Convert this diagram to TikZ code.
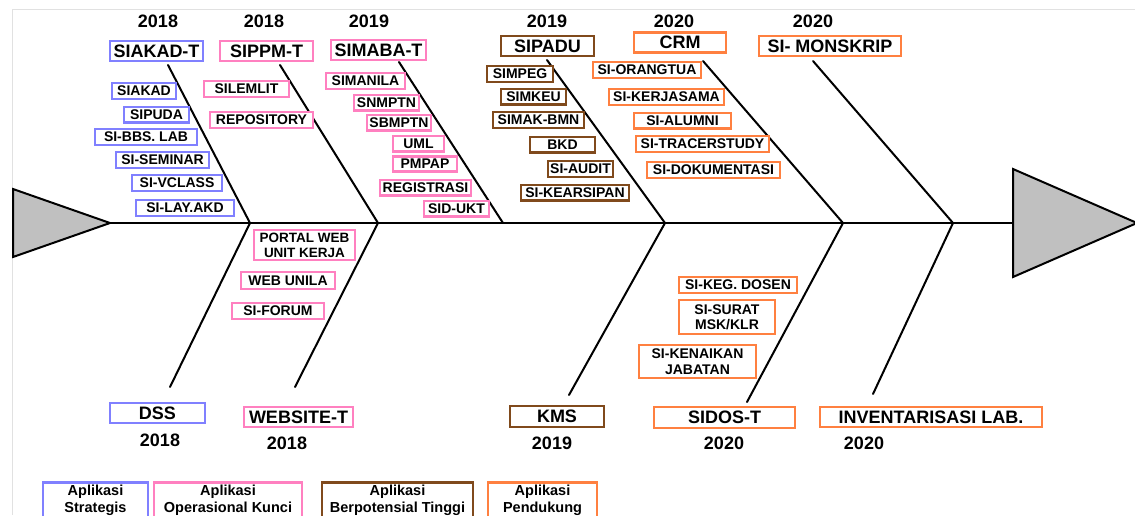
\documentclass[tikz,border=0pt]{standalone}
\usepackage{fontspec}
\setmainfont{Liberation Sans}
\definecolor{cStrat}{RGB}{128,128,255}
\definecolor{cOper}{RGB}{255,128,192}
\definecolor{cPot}{RGB}{128,74,28}
\definecolor{cSup}{RGB}{255,128,64}
\definecolor{headfill}{RGB}{192,192,192}
\definecolor{framec}{RGB}{225,225,225}
\tikzset{
  box/.style={draw, line width=2.5pt, fill=white, inner sep=0pt, align=center,
    font=\fontsize{14}{15.5}\selectfont\bfseries},
  head/.style={box, font=\fontsize{18}{20}\selectfont\bfseries},
  yearlbl/.style={inner sep=0pt, font=\fontsize{18}{20}\selectfont\bfseries},
  legendbox/.style={box, anchor=north, minimum height=40pt, text depth=8pt,
    font=\fontsize{14.5}{17}\selectfont\bfseries},
  wh/.style 2 args={minimum width=#1pt, minimum height=#2pt},
  strat/.style={draw=cStrat},
  oper/.style={draw=cOper},
  pot/.style={draw=cPot},
  sup/.style={draw=cSup},
  bone/.style={line width=2pt, line cap=round},
}
\begin{document}
\begin{tikzpicture}[x=1pt,y=-1pt]
\clip (0,0) rectangle (1135,515);
\fill[white] (0,0) rectangle (1135,515);
\draw[framec, line width=0.8pt] (12,515) -- (12,9) -- (1135,9);

% spine, tail and head
\coordinate (tailtop) at (13,189);
\coordinate (tailtip) at (110,223);
\coordinate (tailbot) at (13,257);
\coordinate (headtop) at (1013,169);
\coordinate (headbase) at (1013,223);
\coordinate (headtip) at (1137,223);
\coordinate (headbot) at (1013,277);
\draw[line width=2pt] (tailtip) -- (headbase);
\draw[fill=headfill, line width=2pt, line join=miter] (tailtop) -- (tailtip) -- (tailbot) -- cycle;
\draw[fill=headfill, line width=2pt, line join=miter] (headtop) -- (headtip) -- (headbot) -- cycle;

% junctions on the spine
\coordinate (j1) at (250,223);
\coordinate (j2) at (378,223);
\coordinate (j3) at (503,223);
\coordinate (j4) at (665,223);
\coordinate (j5) at (843,223);
\coordinate (j6) at (953,223);
% free ends of the bones
\coordinate (t1) at (168,65);
\coordinate (t2) at (280,65);
\coordinate (t3) at (399,62);
\coordinate (t4) at (547,60);
\coordinate (t5) at (703,61);
\coordinate (t6) at (813,61);
\coordinate (u1) at (170,387);
\coordinate (u2) at (295,387);
\coordinate (u4) at (569,395);
\coordinate (u5) at (747,402);
\coordinate (u6) at (873,394);

\draw[bone] (t1) -- (j1);
\draw[bone] (t2) -- (j2);
\draw[bone] (t3) -- (j3);
\draw[bone] (t4) -- (j4);
\draw[bone] (t5) -- (j5);
\draw[bone] (t6) -- (j6);
\draw[bone] (j1) -- (u1);
\draw[bone] (j2) -- (u2);
\draw[bone] (j4) -- (u4);
\draw[bone] (j5) -- (u5);
\draw[bone] (j6) -- (u6);

% years
\node[yearlbl] (ya) at (158,21) {2018};
\node[yearlbl] (yb) at (264,21) {2018};
\node[yearlbl] (yc) at (369,21) {2019};
\node[yearlbl] (yd) at (547,21) {2019};
\node[yearlbl] (ye) at (674,21) {2020};
\node[yearlbl] (yf) at (813,21) {2020};
\node[yearlbl] (yg) at (160,440) {2018};
\node[yearlbl] (yh) at (287,443) {2018};
\node[yearlbl] (yi) at (552,443) {2019};
\node[yearlbl] (yj) at (724,443) {2020};
\node[yearlbl] (yk) at (864,443) {2020};

% main categories
\node[head, strat, wh={93}{20}] (siakadt) at (156.5,51) {SIAKAD-T};
\node[head, oper, wh={93}{20}] (sippmt) at (266.5,51) {SIPPM-T};
\node[head, oper, wh={95}{20}] (simabat) at (378.5,50) {SIMABA-T};
\node[head, pot, wh={93}{20}] (sipadu) at (547.5,46) {SIPADU};
\node[head, sup, wh={92}{20}] (crm) at (680,42.5) {CRM};
\node[head, sup, wh={142}{20}] (monskrip) at (830,46) {SI- MONSKRIP};
\node[head, strat, wh={95}{20}] (dss) at (157.5,413) {DSS};
\node[head, oper, wh={109}{20}] (websitet) at (298.5,417) {WEBSITE-T};
\node[head, pot, wh={94}{21}] (kms) at (557,416.5) {KMS};
\node[head, sup, wh={141}{21}] (sidost) at (724.5,417.5) {SIDOS-T};
\node[head, sup, wh={222}{20}] (invlab) at (931,417) {INVENTARISASI LAB.};

% SIAKAD-T
\node[box, strat, wh={64}{16}] (siakad) at (144,91) {SIAKAD};
\node[box, strat, wh={65}{15.5}] (sipuda) at (156.5,114.5) {SIPUDA};
\node[box, strat, wh={102}{16}] (sibbs) at (146,137) {SI-BBS. LAB};
\node[box, strat, wh={93}{16}] (siseminar) at (162.5,160) {SI-SEMINAR};
\node[box, strat, wh={90}{16}] (sivclass) at (177,183) {SI-VCLASS};
\node[box, strat, wh={98}{16}] (silay) at (185,208) {SI-LAY.AKD};

% SIPPM-T
\node[box, oper, wh={85}{16}] (silemlit) at (246.5,89) {SILEMLIT};
\node[box, oper, wh={103}{16}] (repository) at (261.5,120) {REPOSITORY};

% SIMABA-T
\node[box, oper, wh={79}{16}] (simanila) at (365.5,81) {SIMANILA};
\node[box, oper, wh={65}{15.5}] (snmptn) at (386.5,102.5) {SNMPTN};
\node[box, oper, wh={64}{15.5}] (sbmptn) at (399,122.5) {SBMPTN};
\node[box, oper, wh={51}{15.5}] (uml) at (418.5,143.5) {UML};
\node[box, oper, wh={64}{15}] (pmpap) at (425,164) {PMPAP};
\node[box, oper, wh={91}{15.5}] (registrasi) at (425.5,187.5) {REGISTRASI};
\node[box, oper, wh={65}{15.5}] (sidukt) at (456.5,208.5) {SID-UKT};

% SIPADU
\node[box, pot, wh={66}{16}] (simpeg) at (520,74) {SIMPEG};
\node[box, pot, wh={65}{15.5}] (simkeu) at (533.5,96.5) {SIMKEU};
\node[box, pot, wh={91}{16}] (simakbmn) at (538.5,120) {SIMAK-BMN};
\node[box, pot, wh={65}{15.5}] (bkd) at (562.5,144.5) {BKD};
\node[box, pot, wh={65}{16}] (siaudit) at (580.5,169) {SI-AUDIT};
\node[box, pot, wh={108}{15.5}] (sikearsipan) at (575,192.5) {SI-KEARSIPAN};

% CRM
\node[box, sup, wh={108}{16}] (siorangtua) at (647,70) {SI-ORANGTUA};
\node[box, sup, wh={115}{16}] (sikerjasama) at (666.5,97) {SI-KERJASAMA};
\node[box, sup, wh={97}{15.5}] (sialumni) at (682.5,120.5) {SI-ALUMNI};
\node[box, sup, wh={133}{16}] (sitracer) at (702.5,144) {SI-TRACERSTUDY};
\node[box, sup, wh={133}{16}] (sidokumentasi) at (713.5,170) {SI-DOKUMENTASI};

% WEBSITE-T
\node[box, oper, wh={101}{30}, font=\fontsize{13.5}{15}\selectfont\bfseries] (portalweb) at (304.5,245) {PORTAL WEB\\UNIT KERJA};
\node[box, oper, wh={94}{17}] (webunila) at (288,280.5) {WEB UNILA};
\node[box, oper, wh={92}{16}] (siforum) at (278,311) {SI-FORUM};

% SIDOS-T
\node[box, sup, wh={118}{16}] (sikegdosen) at (738,285) {SI-KEG. DOSEN};
\node[box, sup, wh={96}{34}] (sisurat) at (727,317) {SI-SURAT\\MSK/KLR};
\node[box, sup, wh={117}{33}] (sikenaikan) at (697.5,361.5) {SI-KENAIKAN\\JABATAN};

% legend
\node[legendbox, strat, wh={105}{40}] (lgstrat) at (95.5,481) {Aplikasi\\Strategis};
\node[legendbox, oper, wh={148}{40}] (lgoper) at (228,481) {Aplikasi\\Operasional Kunci};
\node[legendbox, pot, wh={151}{40}] (lgpot) at (397.5,481) {Aplikasi\\Berpotensial Tinggi};
\node[legendbox, sup, wh={109}{40}] (lgsup) at (542.5,481) {Aplikasi\\Pendukung};
\end{tikzpicture}
\end{document}
